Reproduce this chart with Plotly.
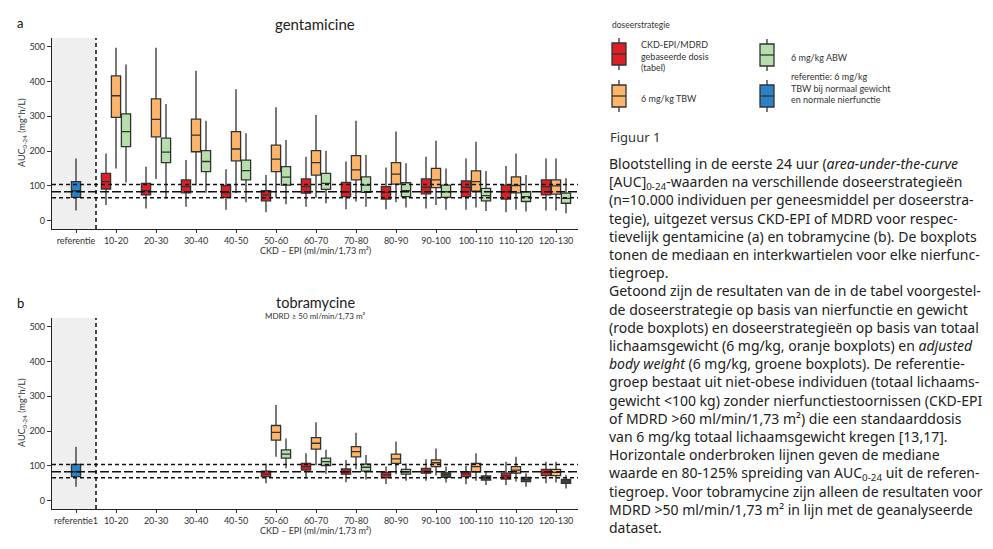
import plotly.graph_objects as go

# page body has an 8px margin: figure is drawn 8px right/down, so map target pixels accordingly
OFF = 8
W, H = 985, 541

groups = ["10-20", "20-30", "30-40", "40-50", "50-60", "60-70", "70-80",
          "80-90", "90-100", "100-110", "110-120", "120-130"]
ticks_a = ["referentie"] + groups
ticks_b = ["referentie1"] + groups

# (lower whisker, Q1, median, Q3, upper whisker), AUC0-24 in mg*h/L
gen_ref = [(29, 67, 86, 112, 179)]
gen_red = [(45, 91, 112, 136, 193), (35, 74, 86, 107, 155), (40, 80, 98, 117, 174),
           (31, 67, 80, 101, 148), (24, 57, 74, 86, 131), (40, 79, 98, 120, 184),
           (33, 69, 83, 110, 170), (33, 62, 81, 98, 153), (35, 77, 96, 120, 184),
           (31, 69, 96, 114, 179), (24, 62, 83, 102, 157), (29, 74, 98, 117, 179)]
gen_orange = [(150, 297, 359, 416, 497), (120, 241, 291, 350, 497), (102, 198, 246, 292, 431),
              (79, 172, 206, 256, 378), (66, 141, 177, 217, 326), (66, 131, 167, 201, 304),
              (55, 117, 146, 187, 287), (53, 105, 134, 167, 256), (45, 95, 117, 150, 230),
              (38, 85, 112, 143, 227), (31, 80, 101, 126, 193), (29, 76, 100, 117, 179)]
gen_green = [(110, 213, 256, 307, 449), (64, 167, 197, 237, 335), (80, 141, 170, 201, 287),
             (53, 117, 144, 174, 251), (47, 102, 125, 155, 232), (50, 90, 107, 136, 201),
             (40, 81, 102, 126, 189), (38, 69, 86, 109, 165), (31, 67, 83, 102, 150),
             (28, 57, 72, 93, 143), (26, 55, 69, 83, 131), (21, 50, 64, 79, 122)]

tob_groups = ["50-60", "60-70", "70-80", "80-90", "90-100", "100-110", "110-120", "120-130"]
tob_ref = [(40, 69, 83, 104, 155)]
tob_red = [(50, 69, 76, 85, 107), (64, 88, 98, 107, 136), (53, 76, 83, 91, 117),
           (48, 66, 74, 81, 98), (57, 79, 85, 93, 119), (47, 69, 77, 83, 100),
           (45, 62, 71, 79, 112), (50, 72, 81, 90, 112)]
tob_orange = [(126, 174, 196, 216, 275), (102, 148, 165, 181, 225), (90, 126, 141, 155, 195),
              (76, 107, 120, 134, 170), (72, 98, 109, 117, 150), (57, 83, 98, 107, 136),
              (55, 79, 88, 98, 126), (52, 72, 81, 90, 112)]
tob_green = [(93, 122, 134, 146, 179), (77, 101, 112, 122, 146), (61, 85, 96, 105, 131),
             (57, 76, 83, 90, 107), (52, 67, 74, 80, 98), (45, 59, 66, 71, 83),
             (40, 55, 61, 67, 79), (35, 50, 57, 61, 74)]
tob_green_dark_groups = ["90-100", "100-110", "110-120", "120-130"]

ref_lines = [66, 83, 104]          # 80%, median, 125% of reference
ref_line_dash = ["4px,3px", "9px,3px", "4px,3px"]

C_RED, C_ORANGE, C_GREEN, C_BLUE, C_DARK = "#dc2026", "#fdb56c", "#b6dfab", "#2a82c4", "#46514a"
LINE = "#333333"
FONT = "Lato"
CAP_FONT = "Noto Sans"

OFFSETS = {"red": -0.25, "orange": 0.0, "green": 0.25}
BOXW = 0.23


def px(x):
    return (x - OFF) / W


def py(y):
    return 1 - (y - OFF) / H


fig = go.Figure()


def add_boxes(cats, stats, color, off, xa, ya):
    pos = [ticks_a.index(c) + off for c in cats]
    fig.add_trace(go.Box(
        x=pos,
        lowerfence=[s[0] for s in stats], q1=[s[1] for s in stats],
        median=[s[2] for s in stats], q3=[s[3] for s in stats],
        upperfence=[s[4] for s in stats],
        fillcolor=color, line=dict(color=LINE, width=1.3), whiskerwidth=0,
        width=BOXW, boxpoints=False, hoverinfo="skip", showlegend=False,
        xaxis=xa, yaxis=ya))


# panel a
add_boxes(["referentie"], gen_ref, C_BLUE, 0, "x", "y")
add_boxes(groups, gen_red, C_RED, OFFSETS["red"], "x", "y")
add_boxes(groups, gen_orange, C_ORANGE, OFFSETS["orange"], "x", "y")
add_boxes(groups, gen_green, C_GREEN, OFFSETS["green"], "x", "y")

# panel b
add_boxes(["referentie"], tob_ref, C_BLUE, 0, "x2", "y2")
add_boxes(tob_groups, tob_red, C_RED, OFFSETS["red"], "x2", "y2")
add_boxes(tob_groups, tob_orange, C_ORANGE, OFFSETS["orange"], "x2", "y2")
light = [(g, s) for g, s in zip(tob_groups, tob_green) if g not in tob_green_dark_groups]
dark = [(g, s) for g, s in zip(tob_groups, tob_green) if g in tob_green_dark_groups]
add_boxes([g for g, _ in light], [s for _, s in light], C_GREEN, OFFSETS["green"], "x2", "y2")
add_boxes([g for g, _ in dark], [s for _, s in dark], C_DARK, OFFSETS["green"], "x2", "y2")

XR = [-0.6, 12.55]
YR = [-24, 525]

shapes = []
for xr, yr in (("x", "y"), ("x2", "y2")):
    shapes.append(dict(type="rect", xref=xr, yref=yr, x0=XR[0], x1=0.5, y0=YR[0], y1=YR[1],
                       fillcolor="#efefef", line=dict(width=0), layer="below"))
    shapes.append(dict(type="line", xref=xr, yref=yr, x0=0.5, x1=0.5, y0=YR[0], y1=YR[1],
                       line=dict(color="#111", width=1.5, dash="4px,3px"), layer="above"))
    for v, d in zip(ref_lines, ref_line_dash):
        shapes.append(dict(type="line", xref=xr, yref=yr, x0=XR[0], x1=XR[1], y0=v, y1=v,
                           line=dict(color="#111", width=1.5, dash=d), layer="above"))

# legend icons (paper coordinates)
legend_items = [
    (C_RED, 619, 38, 70, "CKD-EPI/MDRD<br>gebaseerde dosis<br>(tabel)", 639, 56),
    (C_ORANGE, 619, 80, 112, "6 mg/kg TBW", 639, 98),
    (C_GREEN, 767, 39, 71, "6 mg/kg ABW", 789, 57),
    (C_BLUE, 767, 80, 112, "referentie: 6 mg/kg<br>TBW bij normaal gewicht<br>en normale nierfunctie", 789, 88),
]
annotations = []
for col, cx, top, bot, label, tx, ty in legend_items:
    bt, bb = top + 5, bot - 5
    mid = (top + bot) / 2
    shapes.append(dict(type="line", xref="paper", yref="paper", x0=px(cx), x1=px(cx),
                       y0=py(top), y1=py(bot), line=dict(color=LINE, width=1.3)))
    shapes.append(dict(type="rect", xref="paper", yref="paper", x0=px(cx - 7), x1=px(cx + 7),
                       y0=py(bt), y1=py(bb), fillcolor=col, line=dict(color=LINE, width=1.3)))
    shapes.append(dict(type="line", xref="paper", yref="paper", x0=px(cx - 7), x1=px(cx + 7),
                       y0=py(mid), y1=py(mid), line=dict(color=LINE, width=1.3)))
    annotations.append(dict(text=label, x=px(tx), y=py(ty), xref="paper", yref="paper",
                            xanchor="left", yanchor="middle", align="left", showarrow=False,
                            font=dict(family=FONT, size=9, color="#333")))


def ann(text, x, y, size, xanchor="center", color="#222", angle=0, align="center", family=FONT):
    annotations.append(dict(text=text, x=px(x), y=py(y), xref="paper", yref="paper",
                            xanchor=xanchor, yanchor="middle", showarrow=False, textangle=angle,
                            align=align, font=dict(family=family, size=size, color=color)))


ann("doseerstrategie", 610, 25, 8.5, xanchor="left", color="#333")
ann("Figuur 1", 608, 137, 13, xanchor="left", color="#333", family=CAP_FONT)

ann("a", 20, 23, 13, color="#111")
ann("b", 20, 303, 13, color="#111")
ann("gentamicine", 315, 24, 15, color="#222")
ann("tobramycine", 315, 302, 14.5, color="#222")
ann("MDRD ≥ 50 ml/min/1,73 m²", 315, 316, 8, color="#333")
for yc in (133, 413):
    ann("AUC<sub>0-24</sub> (mg*h/L)", 22, yc, 9, color="#333", angle=-90)
for yc in (250, 530):
    ann("CKD – EPI (ml/min/1,73 m²)", 315, yc, 9, color="#333")

caption = [
    "Blootstelling in de eerste 24 uur (<i>area-under-the-curve</i>",
    "[AUC]<sub>0-24</sub>-waarden na verschillende doseerstrategieën",
    "(n=10.000 individuen per geneesmiddel per doseerstra-",
    "tegie), uitgezet versus CKD-EPI of MDRD voor respec-",
    "tievelijk gentamicine (a) en tobramycine (b). De boxplots",
    "tonen de mediaan en interkwartielen voor elke nierfunc-",
    "tiegroep.",
    "Getoond zijn de resultaten van de in de tabel voorgestel-",
    "de doseerstrategie op basis van nierfunctie en gewicht",
    "(rode boxplots) en doseerstrategieën op basis van totaal",
    "lichaamsgewicht (6 mg/kg, oranje boxplots) en <i>adjusted</i>",
    "<i>body weight</i> (6 mg/kg, groene boxplots). De referentie-",
    "groep bestaat uit niet-obese individuen (totaal lichaams-",
    "gewicht &lt;100 kg) zonder nierfunctiestoornissen (CKD-EPI",
    "of MDRD &gt;60 ml/min/1,73 m²) die een standaarddosis",
    "van 6 mg/kg totaal lichaamsgewicht kregen [13,17].",
    "Horizontale onderbroken lijnen geven de mediane",
    "waarde en 80-125% spreiding van AUC<sub>0-24</sub> uit de referen-",
    "tiegroep. Voor tobramycine zijn alleen de resultaten voor",
    "MDRD &gt;50 ml/min/1,73 m² in lijn met de geanalyseerde",
    "dataset.",
]
ann("<br>".join(caption), 607, 345, 14, xanchor="left", color="#222", align="left",
    family=CAP_FONT)

axis_common = dict(range=XR, tickvals=list(range(13)), showline=True, linecolor="#222",
                   linewidth=1.3, ticks="outside", ticklen=3, tickcolor="#333",
                   showgrid=False, zeroline=False, tickfont=dict(family=FONT, size=9, color="#333"))
yaxis_common = dict(range=YR, tickvals=[0, 100, 200, 300, 400, 500], showline=True,
                    linecolor="#222", linewidth=1.3, ticks="outside", ticklen=4,
                    tickcolor="#333", showgrid=False, zeroline=False,
                    tickfont=dict(family=FONT, size=9, color="#333"))

fig.update_layout(
    width=W, height=H, margin=dict(l=0, r=0, t=0, b=0),
    paper_bgcolor="white", plot_bgcolor="white",
    font=dict(family=FONT),
    xaxis=dict(domain=[px(52), px(578)], ticktext=ticks_a, anchor="y", **axis_common),
    yaxis=dict(domain=[py(229), py(38)], anchor="x", **yaxis_common),
    xaxis2=dict(domain=[px(52), px(578)], ticktext=ticks_b, anchor="y2", **axis_common),
    yaxis2=dict(domain=[py(509), py(318)], anchor="x2", **yaxis_common),
    shapes=shapes, annotations=annotations,
)

fig.write_html("out.html")
